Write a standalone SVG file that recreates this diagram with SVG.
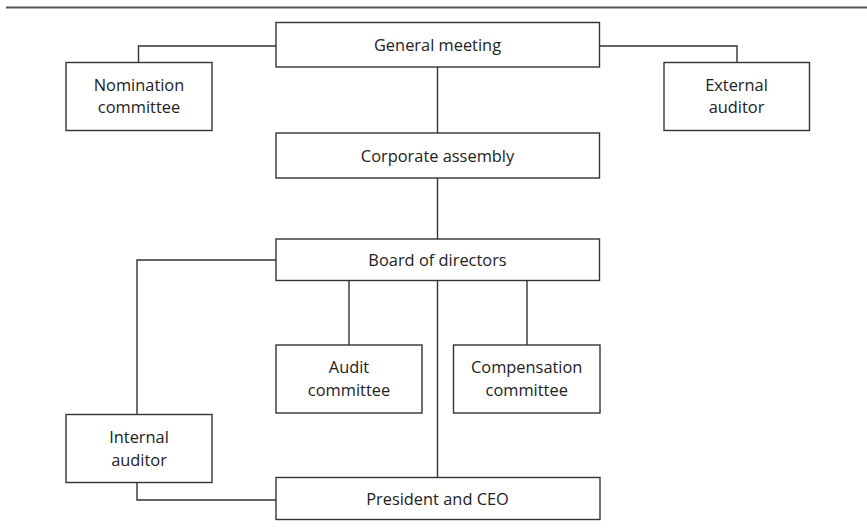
<svg xmlns="http://www.w3.org/2000/svg" width="867" height="529" viewBox="0 0 867 529">
<style>
.box{fill:#fff;stroke:#333;stroke-width:1.4}
.conn{fill:none;stroke:#333;stroke-width:1.4}
text{font-family:"Open Sans","Liberation Sans",sans-serif;font-size:16.4px;fill:#222;text-anchor:middle}
</style>
<rect width="867" height="529" fill="#fff"/>
<line x1="6" y1="7.5" x2="867" y2="7.5" stroke="#555" stroke-width="1.8"/>
<g id="connectors" class="conn">
<path d="M276 46H138.5V62.5"/>
<path d="M599.5 46H737V62.5"/>
<path d="M437.5 67V133"/>
<path d="M437.5 178V239"/>
<path d="M276 260H137V414.5"/>
<path d="M349 280.5V345"/>
<path d="M527 280.5V345"/>
<path d="M437.5 280.5V477.5"/>
<path d="M137 482.5V500H276"/>
</g>
<g id="general-meeting"><rect class="box" x="276" y="22.5" width="323.5" height="44.5"/><text x="437.5" y="51">General meeting</text></g>
<g id="nomination-committee"><rect class="box" x="66" y="62.5" width="146" height="68"/><text x="139" y="91">Nomination</text><text x="139" y="113">committee</text></g>
<g id="external-auditor"><rect class="box" x="664" y="62.5" width="145.5" height="68"/><text x="736.5" y="91">External</text><text x="736.5" y="113">auditor</text></g>
<g id="corporate-assembly"><rect class="box" x="276" y="133" width="323.5" height="45"/><text x="437.5" y="161.5">Corporate assembly</text></g>
<g id="board-of-directors"><rect class="box" x="276" y="239" width="323.5" height="41.5"/><text x="437.5" y="266">Board of directors</text></g>
<g id="audit-committee"><rect class="box" x="276" y="345" width="146" height="68"/><text x="349" y="373">Audit</text><text x="349" y="396">committee</text></g>
<g id="compensation-committee"><rect class="box" x="453.5" y="345" width="146.5" height="68"/><text x="526.7" y="373">Compensation</text><text x="526.7" y="396">committee</text></g>
<g id="internal-auditor"><rect class="box" x="66" y="414.5" width="146" height="68"/><text x="139" y="443">Internal</text><text x="139" y="466">auditor</text></g>
<g id="president-ceo"><rect class="box" x="276" y="477.5" width="324" height="42"/><text x="437.5" y="504.5">President and CEO</text></g>
</svg>
